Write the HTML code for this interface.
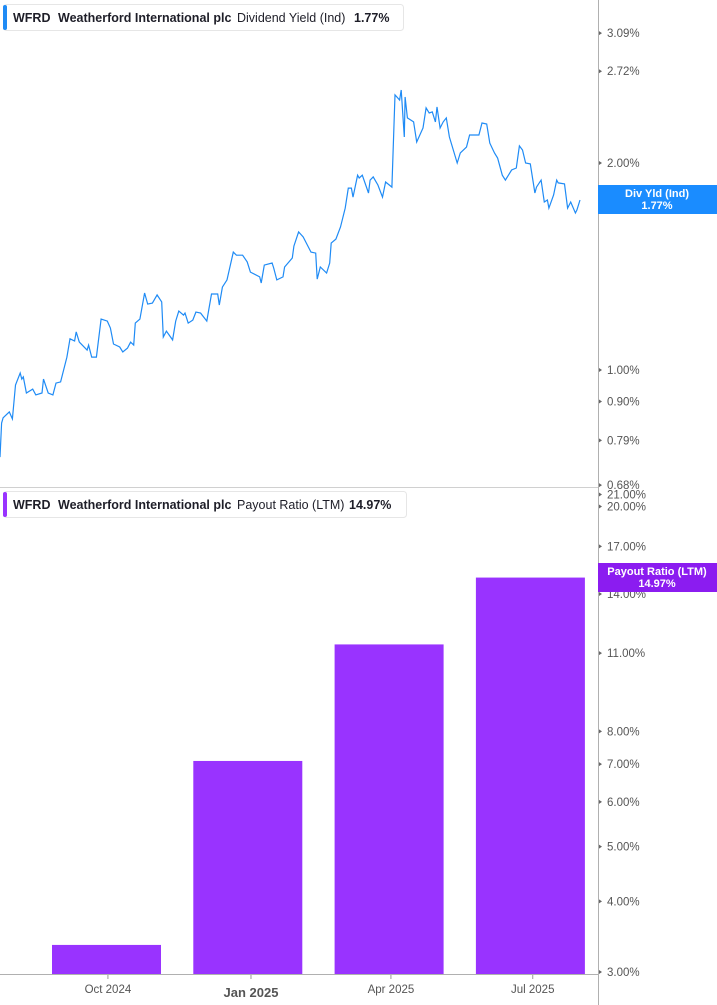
<!DOCTYPE html>
<html><head><meta charset="utf-8">
<style>
body{margin:0;background:#fff;font-family:"Liberation Sans",sans-serif;}
#wrap{position:relative;width:717px;height:1005px;overflow:hidden;}
svg text{font-family:"Liberation Sans",sans-serif;}
</style></head>
<body>
<div id="wrap">
<svg id="svg" width="717" height="1005" viewBox="0 0 717 1005">
  <line x1="0" y1="487.5" x2="598" y2="487.5" stroke="#d0d0d0"/>
  <line x1="598.5" y1="0" x2="598.5" y2="1005" stroke="#b0b0b0"/>
  <line x1="0" y1="974.5" x2="598" y2="974.5" stroke="#b0b0b0"/>
  <g id="topAxis"></g>
  <g id="botAxis"></g>
  <g id="xAxis"></g>
  <g id="bars"></g>
  <path id="line" fill="none" stroke="#1f8bf5" stroke-width="1.2"/>

  <g>
    <rect x="3.5" y="4.5" width="400" height="26" rx="3" fill="#fff" stroke="#e6e6e6"/>
    <rect x="3" y="5" width="4" height="25" rx="2" fill="#1f8bf5"/>
    <text x="13" y="22" font-size="12.5" font-weight="bold" fill="#1e1e28">WFRD</text>
    <text x="58" y="22" font-size="12.5" font-weight="bold" fill="#1e1e28">Weatherford International plc</text>
    <text x="237" y="22" font-size="12.5" fill="#1e1e28">Dividend Yield (Ind)</text>
    <text x="354" y="22" font-size="12.5" font-weight="bold" fill="#1e1e28">1.77%</text>
  </g>
  <g>
    <rect x="3.5" y="491.5" width="403" height="26" rx="3" fill="#fff" stroke="#e6e6e6"/>
    <rect x="3" y="492" width="4" height="25" rx="2" fill="#9933ff"/>
    <text x="13" y="509" font-size="12.5" font-weight="bold" fill="#1e1e28">WFRD</text>
    <text x="58" y="509" font-size="12.5" font-weight="bold" fill="#1e1e28">Weatherford International plc</text>
    <text x="237" y="509" font-size="12.5" fill="#1e1e28">Payout Ratio (LTM)</text>
    <text x="349" y="509" font-size="12.5" font-weight="bold" fill="#1e1e28">14.97%</text>
  </g>
  <g>
    <rect x="598" y="185" width="119" height="29" fill="#1a8cff"/>
    <text x="657" y="197" font-size="11" font-weight="bold" fill="#fff" text-anchor="middle">Div Yld (Ind)</text>
    <text x="657" y="209" font-size="11" font-weight="bold" fill="#fff" text-anchor="middle">1.77%</text>
  </g>
  <g>
    <rect x="598" y="563" width="119" height="29" fill="#8b1cf0"/>
    <text x="657" y="575" font-size="11" font-weight="bold" fill="#fff" text-anchor="middle">Payout Ratio (LTM)</text>
    <text x="657" y="587" font-size="11" font-weight="bold" fill="#fff" text-anchor="middle">14.97%</text>
  </g>
</svg>
</div>
<script>
// Dividend yield series: day offsets from series start, values in %
const lineDays = [0,1,2,6,8,10,13,14,15,17,21,23,27,28,31,34,36,39,43,45,48,49,51,56,57,59,62,65,69,71,73,77,79,82,84,86,87,90,93,95,98,101,104,105,107,111,113,115,118,119,121,124,126,129,133,136,140,141,143,146,150,152,156,159,161,167,168,170,175,176,178,182,183,188,189,192,195,197,200,203,204,206,210,212,213,216,219,222,224,226,227,230,231,233,237,238,240,243,246,248,252,254,257,258,260,260.5,262,266,268,272,274,276,278,280,281,283,285,287,289,294,296,300,302,308,310,313,315,318,320,323,325,329,332,334,336,338,341,344,345,348,350,352,353,356,358,359,363,365,367,370,371,373];
const lineVals = [0.747,0.837,0.852,0.869,0.849,0.951,0.990,0.970,0.977,0.926,0.938,0.920,0.926,0.970,0.926,0.920,0.957,0.961,1.044,1.110,1.102,1.136,1.098,1.069,1.087,1.044,1.044,1.186,1.178,1.151,1.091,1.080,1.062,1.076,1.098,1.087,1.170,1.186,1.294,1.247,1.251,1.286,1.256,1.117,1.139,1.106,1.178,1.218,1.202,1.210,1.170,1.182,1.214,1.210,1.178,1.290,1.290,1.243,1.320,1.352,1.484,1.469,1.469,1.436,1.388,1.366,1.338,1.421,1.431,1.407,1.352,1.366,1.412,1.455,1.514,1.588,1.561,1.530,1.484,1.479,1.356,1.412,1.384,1.431,1.530,1.550,1.614,1.720,1.839,1.839,1.784,1.920,1.902,1.920,1.809,1.889,1.909,1.858,1.784,1.877,1.845,2.512,2.470,2.554,2.182,2.495,2.326,2.295,2.146,2.249,2.405,2.365,2.373,2.295,2.413,2.249,2.295,2.326,2.182,2.000,2.068,2.110,2.197,2.197,2.287,2.279,2.138,2.068,2.034,1.920,1.889,1.954,1.967,2.118,2.089,2.000,1.994,1.809,1.845,1.889,1.755,1.767,1.720,1.797,1.889,1.871,1.865,1.720,1.755,1.692,1.709,1.767];
const topTicks = [3.09,2.72,2.00,1.00,0.90,0.79,0.68];
// Payout ratio bars
const barCats = ["Oct 2024","Jan 2025","Apr 2025","Jul 2025"];
const barVals = [3.35,7.09,11.4,14.97];
const botTicks = [21,20,17,14,11,8,7,6,5,4,3];
// x-axis labels, in days from series start
const xTickLabels = ["Oct 2024","Jan 2025","Apr 2025","Jul 2025"];
const xTickDays = [69.4,161.4,251.4,342.6];

const NS="http://www.w3.org/2000/svg";
function xDay(d){return d*1.555;}
function yTop(v){return 370-Math.log10(v)*687.6;}
function yBot(v){return 972-Math.log10(v/3)*565;}
function bandX(i){return 106.5+i*141.3;}
function mk(tag,attrs,parent){const e=document.createElementNS(NS,tag);for(const k in attrs)e.setAttribute(k,attrs[k]);parent.appendChild(e);return e;}

let d="";
lineDays.forEach((t,i)=>{d+=(i?"L":"M")+xDay(t).toFixed(1)+","+yTop(lineVals[i]).toFixed(1);});
document.getElementById("line").setAttribute("d",d);

const ta=document.getElementById("topAxis");
topTicks.forEach(v=>{
  const y=yTop(v);
  const tk=mk("path",{d:`M599,${y-2}L602,${y}L599,${y+2}Z`,fill:"#666"},ta);
  
  
  const t=mk("text",{x:607,y:y+4,"font-size":"11.5",fill:"#555"},ta);
  
  
  t.textContent=v.toFixed(2)+"%";
});
const ba=document.getElementById("botAxis");
botTicks.forEach(v=>{
  const y=yBot(v);
  const tk=mk("path",{d:`M599,${y-2}L602,${y}L599,${y+2}Z`,fill:"#666"},ba);
  
  
  const t=mk("text",{x:607,y:y+4,"font-size":"11.5",fill:"#555"},ba);
  
  
  t.textContent=v.toFixed(2)+"%";
});
const bg=document.getElementById("bars");
barVals.forEach((v,i)=>{
  const y=yBot(v);
  const r=mk("rect",{x:bandX(i)-54.5,y:y,width:109,height:974-y,fill:"#9933ff"},bg);
  
  
});
const xa=document.getElementById("xAxis");
xTickLabels.forEach((lab,i)=>{
  const x=xDay(xTickDays[i]);
  const l=mk("line",{x1:x,y1:975,x2:x,y2:979,stroke:"#999"},xa);
  
  
  const bold=lab.startsWith("Jan");
  const t=mk("text",{x:x,y:bold?997:993,"font-size":bold?"13":"11.5","font-weight":bold?"bold":"normal",fill:"#555","text-anchor":"middle"},xa);
  
  
  t.textContent=lab;
});
</script>
</body></html>
